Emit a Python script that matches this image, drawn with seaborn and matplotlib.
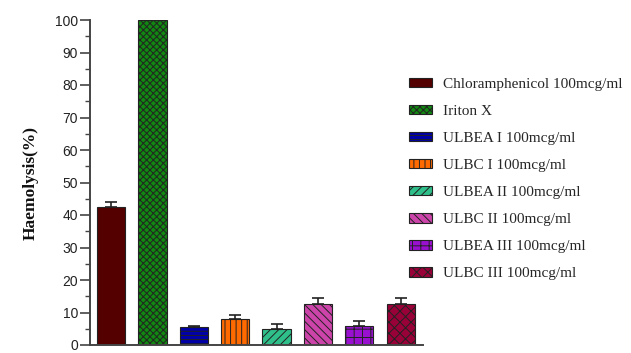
import matplotlib
matplotlib.use("Agg")
import matplotlib.pyplot as plt
import seaborn as sns
import pandas as pd
import numpy as np
from matplotlib.patches import Patch
from matplotlib.ticker import MultipleLocator

categories = ["Chloramphenicol 100mcg/ml", "Iriton X", "ULBEA I 100mcg/ml",
              "ULBC I 100mcg/ml", "ULBEA II 100mcg/ml", "ULBC II 100mcg/ml",
              "ULBEA III 100mcg/ml", "ULBC III 100mcg/ml"]
means = [42.5, 100.0, 5.4, 8.0, 4.9, 12.6, 5.8, 12.6]
errors = [1.6, 0.0, 0.6, 1.1, 1.7, 2.0, 1.6, 2.0]
yticks = [0, 10, 20, 30, 40, 50, 60, 70, 80, 90, 100]

colors = ["#550000", "#118811", "#0000a8", "#ff6a00", "#2fbf8a", "#cc44aa", "#9a10d0", "#9a0038"]
hatches = ["", "xxxxx", "----", "|||", "////", "\\\\\\\\", "++", "xxx"]

sns.set_theme(style="white")
plt.rcParams["hatch.linewidth"] = 0.7

df = pd.DataFrame({"cat": categories, "val": means})

fig = plt.figure(figsize=(6.31, 3.53), dpi=100)
ax = fig.add_axes([90/631, 8/353, 333/631, 325/353])

sns.barplot(data=df, x="cat", y="val", order=categories, ax=ax,
            errorbar=None, width=0.68, saturation=1)
for p, c, h in zip(ax.patches, colors, hatches):
    p.set_facecolor(c)
    p.set_edgecolor("#222222")
    p.set_linewidth(0.8)
    p.set_hatch(h)

x = np.arange(len(categories))
ax.errorbar(x, means, yerr=[np.zeros(len(errors)), errors], fmt="none",
            ecolor="#222222", elinewidth=1.2, capsize=4, capthick=1.2)

ax.set_xlim(-0.51, 7.54)
ax.set_ylim(0, 100)
ax.set_yticks(yticks)
ax.yaxis.set_minor_locator(MultipleLocator(5))
ax.set_xticks([])
ax.set_xlabel("")
ax.tick_params(axis="y", which="major", direction="out", length=7, width=1.2,
               color="#444444", labelsize=10, pad=1.5, left=True, labelcolor="#222222")
ax.tick_params(axis="y", which="minor", direction="out", length=3.5, width=1.0,
               color="#444444", left=True)
for lab in ax.get_yticklabels():
    lab.set_family(["Liberation Sans", "DejaVu Sans"])
for s in ["top", "right"]:
    ax.spines[s].set_visible(False)
for s in ["left", "bottom"]:
    ax.spines[s].set_color("#444444")
    ax.spines[s].set_linewidth(1.4)

ax.set_ylabel("Haemolysis(%)", fontsize=12.5, fontweight="bold", color="#111111",
              family=["Liberation Serif", "DejaVu Serif"], labelpad=12)

handles = [Patch(facecolor=c, edgecolor="#222222", hatch=h, linewidth=0.8)
           for c, h in zip(colors, hatches)]
fig.legend(handles, categories, loc="upper left", bbox_to_anchor=(409/631, 1 - 78/353),
           frameon=False, prop={"family": ["Liberation Serif", "DejaVu Serif"], "size": 11},
           handlelength=1.5, handleheight=0.55, labelspacing=0.92, handletextpad=0.7,
           borderaxespad=0, borderpad=0)

fig.savefig("out.png", dpi=100)
